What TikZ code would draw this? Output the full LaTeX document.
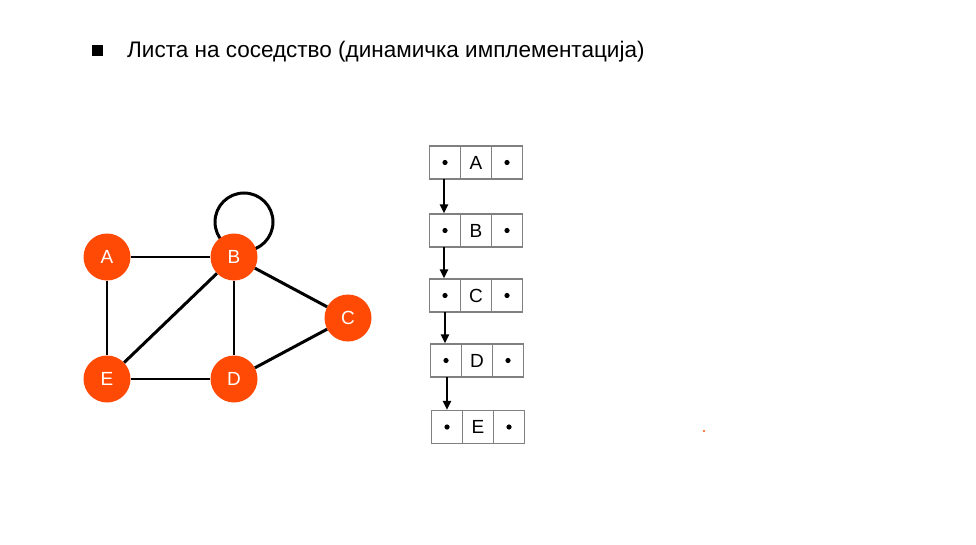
\documentclass[tikz,border=0pt]{standalone}
\usepackage{fontspec}
\setmainfont{Liberation Sans}
\usetikzlibrary{arrows.meta}
\definecolor{vtx}{HTML}{FF4A05}
\definecolor{cellgray}{HTML}{808080}
\begin{document}
\begin{tikzpicture}[x=1pt,y=-1pt,
  vertex/.style={circle,fill=vtx,minimum size=47pt,inner sep=0pt,text=white,font=\fontsize{19}{19}\selectfont},
  thinedge/.style={line width=1.8pt,black},
  thickedge/.style={line width=3pt,black},
  cell/.style={draw=cellgray,line width=1.2pt,minimum width=31pt,minimum height=33pt,inner sep=0pt,font=\fontsize{19}{19}\selectfont},
  dot/.style={fill=black},
  link/.style={line width=2.6pt,-{Triangle[length=9pt,width=8pt]}}]
\useasboundingbox[fill=white] (0,0) rectangle (976,545);
% title
\node[fill=black,minimum size=11pt,inner sep=0pt] (bul) at (97,51) {};
\node[anchor=base west,inner sep=0pt,font=\fontsize{22.5}{22.5}\selectfont] (title) at (127,58) {Листа на соседство (динамичка имплементација)};
% graph
\draw[thickedge] (244,222) circle (29);
\node[vertex] (A) at (107,257) {A};
\node[vertex] (B) at (234,257) {B};
\node[vertex] (C) at (348,318) {C};
\node[vertex] (E) at (107,379) {E};
\node[vertex] (D) at (234,379) {D};
\draw[thinedge] (A) -- (B);
\draw[thinedge] (A) -- (E);
\draw[thinedge] (B) -- (D);
\draw[thinedge] (E) -- (D);
\draw[thickedge] (B) -- (E);
\draw[thickedge] (B) -- (C);
\draw[thickedge] (D) -- (C);
% lists
\foreach \n/\x/\y in {A/445/162.5, B/445/230.5, C/445/295.5, D/446/360.5, E/447/427}{
  \node[cell] (\n1) at (\x,\y) {};
  \node[cell] (\n2) at (\x+31,\y) {\n};
  \node[cell] (\n3) at (\x+62,\y) {};
  \fill[dot] (\n1.center) circle (2.6);
  \fill[dot] (\n3.center) circle (2.6);
}
\draw[link] (A1.center) ++(-1,16.5) coordinate (a1) -- (B1.north -| a1);
\draw[link] (B1.center) ++(-1,16.5) coordinate (b1) -- (C1.north -| b1);
\draw[link] (C1.center) ++(0,16.5) coordinate (c1) -- (D1.north -| c1);
\draw[link] (D1.center) ++(1,16.5) coordinate (d1) -- (E1.north -| d1);
% stray dot
\fill[vtx] (704,431) circle (1.2);
\end{tikzpicture}
\end{document}
